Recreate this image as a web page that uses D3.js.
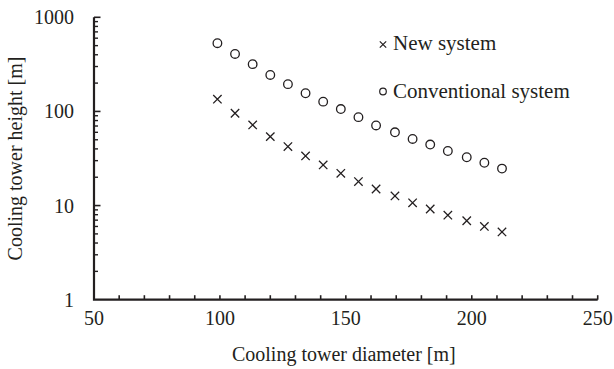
<!DOCTYPE html>
<html><head><meta charset="utf-8">
<script src="https://cdn.jsdelivr.net/npm/d3@7"></script>
<style>body{margin:0;background:#fff}svg{display:block}</style>
</head><body>
<svg id="c" width="614" height="369"></svg>
<script>
const diameters = [99, 106, 113, 120, 127, 134, 141, 148, 155, 162, 169.5, 176.5, 183.5, 190.5, 198, 205, 212];
const conventional = [531, 408, 318, 244, 195, 156, 127, 106, 87, 71, 60, 51, 44.5, 38, 32.6, 28.5, 24.7];
const newSystem = [135, 95.7, 71.9, 54, 42.3, 33.7, 27, 22, 18, 15, 12.65, 10.7, 9.2, 7.9, 6.9, 6.0, 5.25];
const xTicks = [50, 100, 150, 200, 250];
const yTicks = [1, 10, 100, 1000];
const seriesNames = ["New system", "Conventional system"];

const ink = "#231f20";
const font = "'Liberation Serif', 'Times New Roman', serif";
const svg = d3.select("#c");
const L = 94, R = 597.7, T = 17.3, B = 299.7;
const x = d3.scaleLinear().domain([50, 250]).range([L, R]);
const y = d3.scaleLog().domain([1, 1000]).range([B, T]);

// x minor ticks every 10
const xMinor = d3.range(60, 251, 10);
const gx = svg.append("g");
gx.selectAll("line").data(xMinor).join("line")
  .attr("x1", d => x(d)).attr("x2", d => x(d))
  .attr("y1", B).attr("y2", B - 4.5)
  .attr("stroke", ink).attr("stroke-width", 1.6);
gx.selectAll("text").data(xTicks).join("text")
  .attr("x", d => x(d)).attr("y", 325)
  .attr("text-anchor", "middle").attr("font-family", font).attr("font-size", 20)
  .attr("fill", ink).text(d => d);

// y ticks: log minor
const yMinor = [];
[1, 10, 100].forEach(dec => { for (let k = 2; k <= 9; k++) yMinor.push(dec * k); });
const gy = svg.append("g");
gy.selectAll("line.mn").data(yMinor).join("line").attr("class", "mn")
  .attr("x1", L).attr("x2", L + 4)
  .attr("y1", d => y(d)).attr("y2", d => y(d))
  .attr("stroke", ink).attr("stroke-width", 1.4);
gy.selectAll("line.mj").data(yTicks.filter(d => d > 1)).join("line").attr("class", "mj")
  .attr("x1", L).attr("x2", L + 6.5)
  .attr("y1", d => y(d)).attr("y2", d => y(d))
  .attr("stroke", ink).attr("stroke-width", 1.6);
gy.selectAll("text").data(yTicks).join("text")
  .attr("x", 74).attr("y", d => y(d) + 7)
  .attr("text-anchor", "end").attr("font-family", font).attr("font-size", 20)
  .attr("fill", ink).text(d => d);

// axis lines
svg.append("path")
  .attr("d", `M${L},${T}V${B}H${R}`)
  .attr("fill", "none").attr("stroke", ink).attr("stroke-width", 2.2);

// axis titles
svg.append("text").attr("x", (L + R) / 2 - 2).attr("y", 361)
  .attr("text-anchor", "middle").attr("font-family", font).attr("font-size", 20)
  .attr("fill", ink).text("Cooling tower diameter [m]");
svg.append("text").attr("transform", `translate(22,${(T + B) / 2}) rotate(-90)`)
  .attr("text-anchor", "middle").attr("font-family", font).attr("font-size", 20)
  .attr("fill", ink).text("Cooling tower height [m]");

// markers
const crossPath = s => `M${-s},${-s}L${s},${s}M${-s},${s}L${s},${-s}`;
const pts = diameters.map((d, i) => ({d, c: conventional[i], n: newSystem[i]}));
svg.append("g").selectAll("circle").data(pts).join("circle")
  .attr("cx", p => x(p.d)).attr("cy", p => y(p.c)).attr("r", 4.3)
  .attr("fill", "none").attr("stroke", ink).attr("stroke-width", 1.3);
svg.append("g").selectAll("path").data(pts).join("path")
  .attr("transform", p => `translate(${x(p.d)},${y(p.n)})`)
  .attr("d", crossPath(4.2))
  .attr("fill", "none").attr("stroke", ink).attr("stroke-width", 1.3);

// legend
const lg = svg.append("g");
lg.append("path").attr("transform", "translate(383,44.5)").attr("d", crossPath(3.2))
  .attr("stroke", ink).attr("stroke-width", 1.2).attr("fill", "none");
lg.append("text").attr("x", 393).attr("y", 50).attr("font-family", font).attr("font-size", 21)
  .attr("fill", ink).text(seriesNames[0]);
lg.append("circle").attr("cx", 383).attr("cy", 91.5).attr("r", 3.3)
  .attr("stroke", ink).attr("stroke-width", 1.2).attr("fill", "none");
lg.append("text").attr("x", 393).attr("y", 97.5).attr("font-family", font).attr("font-size", 21)
  .attr("fill", ink).text(seriesNames[1]);
</script>
</body></html>
